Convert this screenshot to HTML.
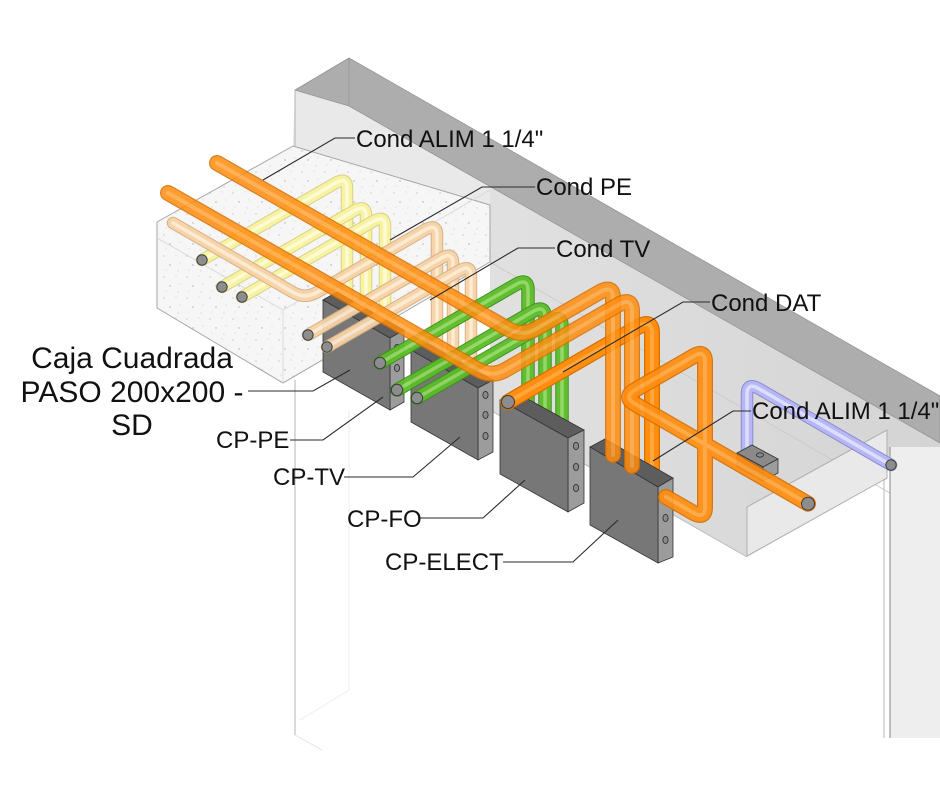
<!DOCTYPE html>
<html><head><meta charset="utf-8">
<style>
html,body{margin:0;padding:0;background:#fff;}
svg{display:block}
text{font-family:"Liberation Sans",Arial,sans-serif;fill:#111}
.lbl{font-size:24px}
.big{font-size:30px}
.ld{stroke:#2a2a2a;stroke-width:1.1;fill:none}
.p{fill:none;stroke-linecap:round;stroke-linejoin:round}
.oo{stroke:#d57000;stroke-width:16}
.ob{stroke:#ff8d10;stroke-width:13.5}
.oh{stroke:#ffb95c;stroke-width:4;opacity:.6}
.yo{stroke:#d8cf85;stroke-width:12.5}
.yb{stroke:#f9f39c;stroke-width:10.5}
.yh{stroke:#fffde2;stroke-width:3.5;opacity:.8}
.eo{stroke:#d6ad80;stroke-width:12.5}
.eb{stroke:#f6d3a6;stroke-width:10.5}
.eh{stroke:#fff0dc;stroke-width:3.5;opacity:.8}
.go{stroke:#3a8f1a;stroke-width:13.5}
.gb{stroke:#5cbc28;stroke-width:11.5}
.gh{stroke:#a6e47c;stroke-width:3.5;opacity:.7}
.lo{stroke:#8a8ad0;stroke-width:12.5}
.lb{stroke:#b7b7f6;stroke-width:10.5}
.lh{stroke:#e6e6ff;stroke-width:3.5;opacity:.8}
.cap{fill:#8d8d8d;stroke:#3d3d3d;stroke-width:1}
.bf{fill:#777;stroke:#333;stroke-width:.8}
.bt{fill:#5d5d5d;stroke:#333;stroke-width:.8}
.bs{fill:#9c9c9c;stroke:#333;stroke-width:.8}
.hole{fill:#8a8a8a;stroke:#333;stroke-width:.9}
</style></head>
<body>
<svg width="940" height="788" viewBox="0 0 940 788" xmlns="http://www.w3.org/2000/svg">
<defs>
 <linearGradient id="lg" x1="0" y1="0" x2="1" y2="0">
  <stop offset="0" stop-color="#e6e6e6"/><stop offset="1" stop-color="#d4d4d4"/>
 </linearGradient>
 <pattern id="spk" width="23" height="21" patternUnits="userSpaceOnUse">
  <rect width="23" height="21" fill="#f6f6f6"/>
  <circle cx="3" cy="4" r="0.6" fill="#b0b0b0"/>
  <circle cx="15" cy="3" r="0.45" fill="#bbb"/>
  <circle cx="9" cy="13" r="0.7" fill="#aaa"/>
  <circle cx="19" cy="11" r="0.45" fill="#bbb"/>
  <circle cx="5" cy="18" r="0.45" fill="#c0c0c0"/>
  <circle cx="17" cy="19" r="0.5" fill="#b5b5b5"/>
 </pattern>
 <path id="y1" d="M202,260 L335,183.3 Q347,176.3 347,188 L347,312"/>
 <path id="y2" d="M222,287 L354,210.8 Q366,203.9 366,216 L366,324"/>
 <path id="y3" d="M242,297 L373,221.4 Q385,214.5 385,226 L385,335"/>
 <path id="p1" d="M173,223 L293,292.3 Q305,299.2 317,292.3 L425,229.9 Q437,223 437,235 L437,365"/>
 <path id="p2" d="M308,335 L441,258.2 Q453,251.3 453,263 L453,373"/>
 <path id="p3" d="M327,347 L459,270.8 Q471,263.9 471,276 L471,383"/>
 <path id="g1" d="M380,363 L516,284.5 Q528,277.6 528,290 L528,416"/>
 <path id="g2" d="M397,390 L533,311.5 Q545,304.6 545,317 L545,425"/>
 <path id="g3" d="M417,398 L550,321.2 Q562,314.3 562,326 L562,435"/>
 <path id="o1" d="M217,163 L508,328.9 Q522,336.9 536,328.8 L599,292.5 Q613,284.4 613,298 L613,455"/>
 <path id="o2" d="M168,193 L478,369.7 Q492,377.7 506,369.6 L618,305 Q632,296.9 632,311 L632,466"/>
 <path id="d3" d="M508,402 L638,327 Q652,318.9 652,333 L652,480"/>
 <path id="el" d="M666,497 L693,512.6 Q705,519.5 705,507 L705,362 Q705,349.7 694,356 L635,390 Q623,397 635,403.9 L808,503.7"/>
 <path id="lv" d="M747,452 L747,394 Q747,381.9 759,388.8 L891,465"/>
</defs>

<!-- background: beam soffit / sides -->
<polygon points="295,90 349,106 940,443 940,447 890,447 887,478 747,557 490,410 490,205 293,146" fill="url(#lg)"/>
<polygon points="295,92 349,106 490,187 490,205 293,146" fill="#e9e9e9"/>
<!-- dark beam top band -->
<polygon points="295,90 349,58 940,396 940,443 349,106" fill="#adadad" stroke="#959595" stroke-width="0.8"/>
<line x1="349" y1="58" x2="349" y2="106" stroke="#9a9a9a" stroke-width="1"/>
<line x1="295" y1="90" x2="295" y2="150" stroke="#b5b5b5" stroke-width="1"/>
<line x1="490" y1="262" x2="940" y2="522" stroke="#c8c8c8" stroke-width="0.8"/>
<line x1="490" y1="410" x2="747" y2="557" stroke="#bbbbbb" stroke-width="1"/>

<!-- right block -->
<polygon points="747,507 887,430 887,478 747,556" fill="#e9e9e9" stroke="#b0b0b0" stroke-width="1"/>

<!-- walls -->
<line x1="295" y1="380" x2="295" y2="735" stroke="#c2c2c2" stroke-width="1.2"/>
<line x1="349" y1="410" x2="349" y2="690" stroke="#ececec" stroke-width="1"/>
<line x1="295" y1="735" x2="322" y2="750" stroke="#e2e2e2" stroke-width="1"/>
<line x1="349" y1="690" x2="300" y2="720" stroke="#eeeeee" stroke-width="1"/>
<rect x="890" y="447" width="50" height="291" fill="#eeeeee"/>
<line x1="884" y1="480" x2="884" y2="738" stroke="#b9b9b9" stroke-width="1"/>
<line x1="890" y1="447" x2="890" y2="738" stroke="#9a9a9a" stroke-width="1.2"/>
<line x1="887" y1="478" x2="884" y2="480" stroke="#aaa" stroke-width="1"/>

<!-- slab -->
<polygon points="157,222 293,146 490,205 490,262 283,383 157,308" fill="url(#spk)" stroke="#a5a5a5" stroke-width="1"/>
<polyline points="157,238 283,310 490,190" fill="none" stroke="#d6d6d6" stroke-width="0.8"/>
<line x1="283" y1="310" x2="283" y2="383" stroke="#d6d6d6" stroke-width="0.8"/>

<!-- yellow pipes -->
<g opacity="0.95">
 <use href="#y1" class="p yo"/><use href="#y1" class="p yb"/><use href="#y1" class="p yh"/>
 <use href="#y2" class="p yo"/><use href="#y2" class="p yb"/><use href="#y2" class="p yh"/>
 <use href="#y3" class="p yo"/><use href="#y3" class="p yb"/><use href="#y3" class="p yh"/>
</g>
<circle class="cap" cx="202" cy="260" r="5.2"/>
<circle class="cap" cx="222" cy="287" r="5.2"/>
<circle class="cap" cx="242" cy="297" r="5.2"/>

<!-- CP-PE box -->
<polygon class="bt" points="323,300 337,292 404,330 390,338"/>
<polygon class="bs" points="390,338 404,330 404,402 390,410"/>
<polygon class="bf" points="323,300 390,338 390,410 323,372"/>
<ellipse class="hole" cx="397" cy="348" rx="2.6" ry="3.6"/>
<ellipse class="hole" cx="397" cy="368" rx="2.6" ry="3.6"/>
<ellipse class="hole" cx="397" cy="388" rx="2.6" ry="3.6"/>

<!-- peach pipes -->
<g opacity="0.95">
 <use href="#p1" class="p eo"/><use href="#p1" class="p eb"/><use href="#p1" class="p eh"/>
 <use href="#p2" class="p eo"/><use href="#p2" class="p eb"/><use href="#p2" class="p eh"/>
 <use href="#p3" class="p eo"/><use href="#p3" class="p eb"/><use href="#p3" class="p eh"/>
</g>
<circle class="cap" cx="308" cy="335" r="5.2"/>
<circle class="cap" cx="327" cy="347" r="5.2"/>

<!-- CP-TV box -->
<polygon class="bt" points="411,350 426,342 493,380 478,388"/>
<polygon class="bs" points="478,388 493,380 493,452 478,460"/>
<polygon class="bf" points="411,350 478,388 478,460 411,422"/>
<ellipse class="hole" cx="485.5" cy="395" rx="2.6" ry="3.6"/>
<ellipse class="hole" cx="485.5" cy="415" rx="2.6" ry="3.6"/>
<ellipse class="hole" cx="485.5" cy="436" rx="2.6" ry="3.6"/>

<!-- green pipes -->
<g opacity="0.95">
 <use href="#g1" class="p go"/><use href="#g1" class="p gb"/><use href="#g1" class="p gh"/>
 <use href="#g2" class="p go"/><use href="#g2" class="p gb"/><use href="#g2" class="p gh"/>
 <use href="#g3" class="p go"/><use href="#g3" class="p gb"/><use href="#g3" class="p gh"/>
</g>
<circle class="cap" cx="380" cy="363" r="5.7"/>
<circle class="cap" cx="397" cy="390" r="5.7"/>
<circle class="cap" cx="417" cy="398" r="5.7"/>

<!-- lavender pipe + junction box -->
<g>
 <use href="#lv" class="p lo"/><use href="#lv" class="p lb"/><use href="#lv" class="p lh"/>
 <circle class="cap" cx="891" cy="465" r="5.2"/>
</g>
<polygon points="737,453 752,445 778,459 763,467" fill="#8a8a8a" stroke="#333" stroke-width=".8"/>
<polygon points="737,453 763,467 763,481 737,467" fill="#777" stroke="#333" stroke-width=".8"/>
<polygon points="763,467 778,459 778,473 763,481" fill="#9c9c9c" stroke="#333" stroke-width=".8"/>
<ellipse class="hole" cx="760" cy="455" rx="3.5" ry="2.2"/>

<!-- CP-FO box -->
<polygon class="bt" points="500,400 515,392 584,430 568,438"/>
<polygon class="bs" points="568,438 584,430 584,503 568,512"/>
<polygon class="bf" points="500,400 568,438 568,512 500,474"/>
<ellipse class="hole" cx="576" cy="446" rx="2.6" ry="3.6"/>
<ellipse class="hole" cx="576" cy="467" rx="2.6" ry="3.6"/>
<ellipse class="hole" cx="576" cy="488" rx="2.6" ry="3.6"/>

<!-- D3 pipe -->
<g>
 <use href="#d3" class="p oo"/><use href="#d3" class="p ob"/><use href="#d3" class="p oh"/>
 <circle class="cap" cx="508" cy="402" r="6.5"/>
</g>

<!-- CP-ELECT box -->
<polygon class="bt" points="590,447 605,439 673,478 658,487"/>
<polygon class="bs" points="658,487 673,478 673,557 658,563"/>
<polygon class="bf" points="590,447 658,487 658,563 590,525"/>
<ellipse class="hole" cx="665.5" cy="518" rx="2.6" ry="3.6"/>
<ellipse class="hole" cx="665.5" cy="540" rx="2.6" ry="3.6"/>

<!-- long orange pipes -->
<g opacity="0.86">
 <use href="#o1" class="p oo"/><use href="#o1" class="p ob"/><use href="#o1" class="p oh"/>
</g>
<g opacity="0.86">
 <use href="#o2" class="p oo"/><use href="#o2" class="p ob"/><use href="#o2" class="p oh"/>
</g>

<!-- ELECT loop pipe -->
<g opacity="0.92">
 <use href="#el" class="p oo"/><use href="#el" class="p ob"/><use href="#el" class="p oh"/>
</g>
<circle class="cap" cx="808" cy="503.7" r="6.5"/>

<!-- leaders -->
<path class="ld" d="M355,138 H335 L263,180"/>
<path class="ld" d="M535,187 H482 L390,240"/>
<path class="ld" d="M555,248 H518 L430,300"/>
<path class="ld" d="M710,302 H683 L563,372"/>
<path class="ld" d="M751,411 H733 L653,461"/>
<path class="ld" d="M248,391 H313 L350,370"/>
<path class="ld" d="M290,440 H323 L383,397"/>
<path class="ld" d="M344,477 H413 L460,437"/>
<path class="ld" d="M420,518 H483 L525,480"/>
<path class="ld" d="M503,562 H573 L618,520"/>

<!-- labels -->
<text class="lbl" x="356" y="147">Cond ALIM 1 1/4"</text>
<text class="lbl" x="536" y="195">Cond PE</text>
<text class="lbl" x="556" y="257">Cond TV</text>
<text class="lbl" x="711" y="311">Cond DAT</text>
<text class="lbl" x="752" y="419">Cond ALIM 1 1/4"</text>
<text class="big" x="132" y="368" text-anchor="middle">Caja Cuadrada</text>
<text class="big" x="132" y="402" text-anchor="middle">PASO 200x200 -</text>
<text class="big" x="132" y="435" text-anchor="middle">SD</text>
<text class="lbl" x="216" y="448">CP-PE</text>
<text class="lbl" x="273" y="485">CP-TV</text>
<text class="lbl" x="347" y="527">CP-FO</text>
<text class="lbl" x="385" y="570">CP-ELECT</text>
</svg>
</body></html>
